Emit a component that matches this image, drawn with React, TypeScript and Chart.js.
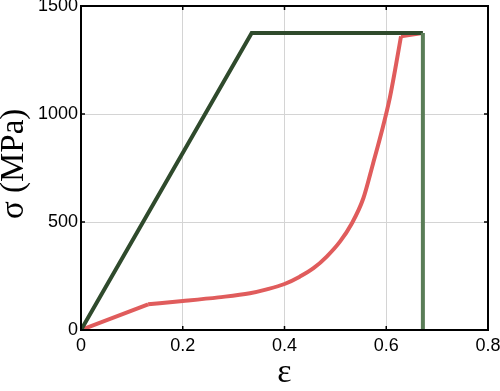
import React, { useEffect, useRef } from "react";
import { Chart, registerables } from "chart.js";

Chart.register(...registerables);

const xTicks = [0, 0.2, 0.4, 0.6, 0.8];
const yTicks = [0, 500, 1000, 1500];

const strainGreen = [0, 0.3355, 0.672, 0.672];
const stressGreen = [0, 1375, 1375, 0];

const strainRed = [0.003, 0.132, 0.2, 0.27, 0.332, 0.365, 0.4, 0.43, 0.457, 0.483, 0.509, 0.532, 0.555, 0.574, 0.592, 0.607, 0.6195, 0.629, 0.671];
const stressRed = [3, 119, 134, 151, 170, 188, 213, 247, 286, 340, 409, 492, 610, 770, 927, 1075, 1232, 1360, 1375];

const boxPlugin = {
  id: "boxTicks",
  afterDraw(chart: any) {
    const { ctx, chartArea } = chart;
    const { left, right, top, bottom } = chartArea;
    const xs = chart.scales.x;
    const ys = chart.scales.y;
    ctx.save();
    ctx.strokeStyle = "#000";
    ctx.lineWidth = 1.5;
    const L = 4;
    ctx.beginPath();
    xTicks.forEach((v) => {
      const px = xs.getPixelForValue(v);
      ctx.moveTo(px, bottom);
      ctx.lineTo(px, bottom - L);
      ctx.moveTo(px, top);
      ctx.lineTo(px, top + L);
    });
    yTicks.forEach((v) => {
      const py = ys.getPixelForValue(v);
      ctx.moveTo(left, py);
      ctx.lineTo(left + L, py);
      ctx.moveTo(right, py);
      ctx.lineTo(right - L, py);
    });
    ctx.stroke();
    ctx.lineWidth = 2;
    ctx.strokeRect(left, top, right - left, bottom - top);
    ctx.restore();
  },
};

export default function App() {
  const ref = useRef<HTMLCanvasElement | null>(null);
  useEffect(() => {
    if (!ref.current) return;
    const green = strainGreen.map((x, i) => ({ x, y: stressGreen[i] }));
    const red = strainRed.map((x, i) => ({ x, y: stressRed[i] }));
    const n = red.length;
    const redStyle = {
      borderColor: "#e05c5c",
      borderWidth: 4,
      pointRadius: 0,
    };
    const chart = new Chart(ref.current, {
      type: "line",
      data: {
        datasets: [
          {
            data: green,
            borderColor: "#2f4a2c",
            borderWidth: 4,
            pointRadius: 0,
            tension: 0,
            segment: {
              borderColor: (c: any) => (c.p0DataIndex === 2 ? "#5a7d57" : "#2f4a2c"),
            },
          },
          { ...redStyle, data: red.slice(0, 2), tension: 0 },
          { ...redStyle, data: red.slice(1, n - 1), cubicInterpolationMode: "monotone" },
          { ...redStyle, data: red.slice(n - 2), tension: 0 },
        ],
      },
      options: {
        animation: false,
        responsive: false,
        layout: { padding: { top: 6, right: 12, left: 0, bottom: 0 } },
        plugins: { legend: { display: false }, tooltip: { enabled: false } },
        scales: {
          x: {
            type: "linear",
            min: 0,
            max: 0.8,
            afterBuildTicks: (s: any) => {
              s.ticks = xTicks.map((v) => ({ value: v }));
            },
            afterFit: (s: any) => {
              s.height = 61;
              s.paddingLeft = 0;
              s.paddingRight = 0;
            },
            grid: { color: "#d4d4d4", lineWidth: 1, drawTicks: false },
            border: { display: false },
            ticks: {
              padding: 5,
              color: "#000",
              font: { family: "Liberation Sans", size: 18 },
              maxRotation: 0,
              callback: (v: any) => String(v),
            },
            title: {
              display: true,
              text: "ε",
              color: "#000",
              font: { family: "Liberation Serif", size: 34 },
              padding: { top: 0, bottom: -2 },
            },
          },
          y: {
            type: "linear",
            min: 0,
            max: 1500,
            afterBuildTicks: (s: any) => {
              s.ticks = yTicks.map((v) => ({ value: v }));
            },
            afterFit: (s: any) => {
              s.width = 81;
              s.paddingTop = 0;
              s.paddingBottom = 0;
            },
            grid: { color: "#d4d4d4", lineWidth: 1, drawTicks: false },
            border: { display: false },
            ticks: {
              padding: 3,
              color: "#000",
              font: { family: "Liberation Sans", size: 18 },
              callback: (v: any) => String(v),
            },
            title: {
              display: true,
              text: " σ (MPa)",
              color: "#000",
              font: { family: "Liberation Serif", size: 33 },
              padding: { top: -5, bottom: 0 },
            },
          },
        },
      },
      plugins: [boxPlugin],
    } as any);
    return () => chart.destroy();
  }, []);
  return (
    <div style={{ position: "fixed", left: 0, top: 0, width: 500, height: 391, background: "#fff" }}>
      <canvas ref={ref} width={500} height={391} />
    </div>
  );
}
